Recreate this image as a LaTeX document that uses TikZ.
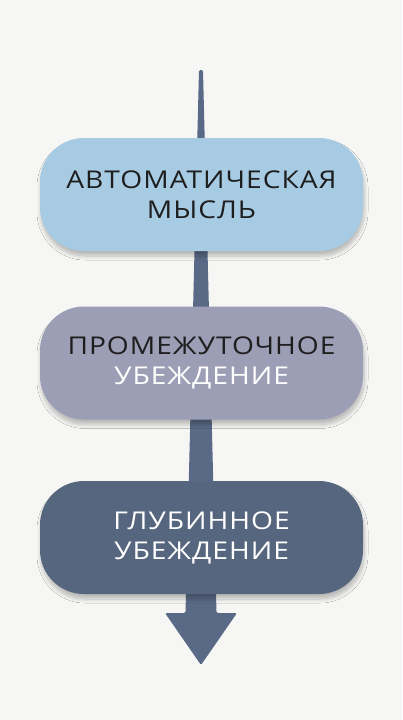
\documentclass[tikz,border=0pt]{standalone}
\usepackage{fontspec}
\setmainfont[FakeStretch=1.15,LetterSpace=4]{Open Sans}
\usetikzlibrary{calc,shadows.blur}
\definecolor{paper}{HTML}{F6F6F4}
\definecolor{thoughtblue}{HTML}{A8CBE4}
\definecolor{midgrey}{HTML}{9C9EB5}
\definecolor{coreslate}{HTML}{56667F}
\definecolor{shaftblue}{HTML}{5A6A86}
\definecolor{ink}{HTML}{1E1E1E}

\begin{document}
\begin{tikzpicture}[x=1pt,y=-1pt,
   stage/.style={rectangle,rounded corners=44pt,minimum width=323pt,minimum height=113pt,
      align=center,font=\fontsize{24.5}{30}\selectfont,
      blur shadow={shadow xshift=1pt,shadow yshift=-5pt,shadow blur steps=8,shadow blur radius=4pt,shadow opacity=25}},
   shaft/.style={fill=shaftblue,rounded corners=1.5pt}]
   \fill[paper] (0,0) rectangle (402,720);
   \coordinate (top) at (201,70);
   \coordinate (tip) at (201,665);
   % tapered shaft and head, behind the boxes
   \fill[shaft] ($(top)+(-2,0)$) -- ($(tip)+(-15.5,-52)$) -- ($(tip)+(-36,-52)$) -- (tip)
      -- ($(tip)+(36,-52)$) -- ($(tip)+(15.5,-52)$) -- ($(top)+(2,0)$) -- cycle;
   % the three stages; format: {number/y/fill/text colour/text}
   \foreach \n/\y/\col/\ink/\txt in {{1/194.5/thoughtblue/ink/{АВТОМАТИЧЕСКАЯ\\МЫСЛЬ}},{2/363/midgrey/ink/{ПРОМЕЖУТОЧНОЕ\\\textcolor{white}{УБЕЖДЕНИЕ}}},{3/537.5/coreslate/white/{ГЛУБИННОЕ\\УБЕЖДЕНИЕ}}}
      \node[stage,fill=\col,text=\ink] (s\n) at (201.5,\y) {\txt};
\end{tikzpicture}
\end{document}
